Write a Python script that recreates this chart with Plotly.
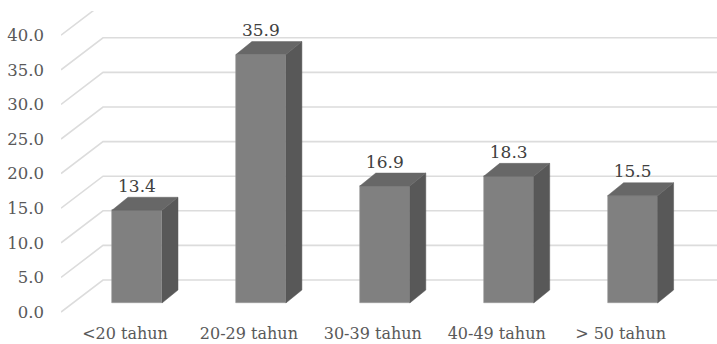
import plotly.graph_objects as go

categories = ["<20 tahun", "20-29 tahun", "30-39 tahun", "40-49 tahun", "> 50 tahun"]
values = [13.4, 35.9, 16.9, 18.3, 15.5]
tick_values = [0, 5, 10, 15, 20, 25, 30, 35, 40]
tick_labels = ["0.0", "5.0", "10.0", "15.0", "20.0", "25.0", "30.0", "35.0", "40.0"]

# 3D projection offsets (in axis units)
PX_X = 123.9   # pixels per category
PX_Y = 6.92    # pixels per value unit
DX1, DY1 = 12 / PX_X, 9 / PX_Y      # bar front face behind front plane
DX2, DY2 = 16 / PX_X, 13 / PX_Y     # bar depth
DXW, DYW = 42 / PX_X, 32 / PX_Y     # back wall depth
WALL_X = -0.5165
BAR_W = 50 / PX_X
LABEL_DY = 9.5 / PX_Y

X_RANGE = [WALL_X, WALL_X + 656 / PX_X]
Y_RANGE = [-6 / PX_Y, 301 / PX_Y]

FONT = "DejaVu Serif"

fig = go.Figure()

# wall gridlines (below everything)
shapes = []
for v in tick_values:
    path = (f"M {WALL_X},{v} L {WALL_X + DXW},{v + DYW} L {X_RANGE[1] + 1},{v + DYW}")
    shapes.append(dict(type="path", path=path, xref="x", yref="y", layer="below",
                       line=dict(color="#dcdcdc", width=1.6)))

xs = list(range(len(categories)))

# front faces
fig.add_trace(go.Bar(x=[i + DX1 for i in xs], y=values, base=[DY1] * len(values),
                     width=BAR_W, marker=dict(color="#808080", line=dict(color="#9a9a9a", width=0.6)),
                     hoverinfo="skip", showlegend=False))

# side and top faces
sx, sy = [], []
tx, ty = [], []
for i, v in zip(xs, values):
    L = i + DX1 - BAR_W / 2
    R = i + DX1 + BAR_W / 2
    T = v + DY1
    sx += [R, R + DX2, R + DX2, R, R, None]
    sy += [DY1, DY1 + DY2, T + DY2, T, DY1, None]
    tx += [L, R, R + DX2, L + DX2, L, None]
    ty += [T, T, T + DY2, T + DY2, T, None]
fig.add_trace(go.Scatter(x=sx, y=sy, mode="lines", fill="toself", fillcolor="#585858",
                         line=dict(color="#585858", width=0.5), hoverinfo="skip", showlegend=False))
fig.add_trace(go.Scatter(x=tx, y=ty, mode="lines", fill="toself", fillcolor="#676767",
                         line=dict(color="#676767", width=0.5), hoverinfo="skip", showlegend=False))

# data labels
fig.add_trace(go.Scatter(x=[i + DX1 for i in xs], y=[v + DY1 + DY2 + LABEL_DY for v in values],
                         mode="text", text=[f"{v:.1f}" for v in values], textposition="middle center",
                         textfont=dict(family=FONT, size=17, color="#404040"),
                         hoverinfo="skip", showlegend=False, cliponaxis=False))

fig.update_layout(
    width=717, height=344,
    margin=dict(l=61, r=0, t=11, b=26),
    paper_bgcolor="white", plot_bgcolor="white",
    font=dict(family=FONT),
    shapes=shapes,
    xaxis=dict(range=X_RANGE, tickvals=xs, ticktext=categories, showgrid=False, zeroline=False,
               showline=False, ticks="", tickfont=dict(family=FONT, size=16, color="#595959"),
               ticklabelstandoff=4, automargin=False),
    yaxis=dict(range=Y_RANGE, tickvals=tick_values, ticktext=tick_labels, showgrid=False,
               zeroline=False, showline=False, ticks="", automargin=False,
               tickfont=dict(family=FONT, size=16.5, color="#595959"), ticklabelstandoff=16),
    bargap=0,
)

fig.write_html("out.html")
